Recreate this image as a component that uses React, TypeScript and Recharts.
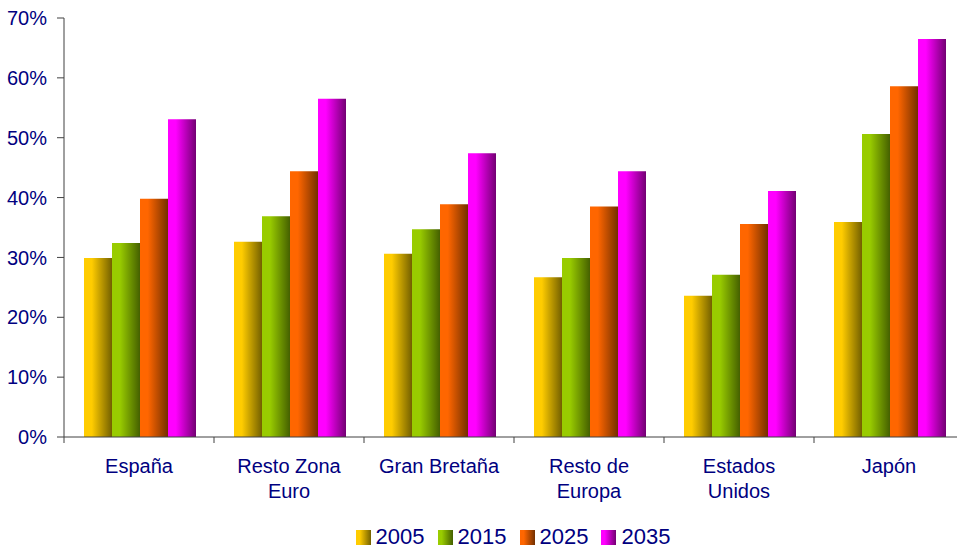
import React from "react";
import { BarChart, Bar, XAxis, YAxis, Legend } from "recharts";

const categories = ["España", "Resto Zona Euro", "Gran Bretaña", "Resto de Europa", "Estados Unidos", "Japón"];
const categoryLines: string[][] = [["España"], ["Resto Zona", "Euro"], ["Gran Bretaña"], ["Resto de", "Europa"], ["Estados", "Unidos"], ["Japón"]];
const s2005 = [29.9, 32.6, 30.6, 26.7, 23.6, 35.9];
const s2015 = [32.4, 36.9, 34.7, 29.9, 27.1, 50.6];
const s2025 = [39.8, 44.4, 38.9, 38.5, 35.6, 58.6];
const s2035 = [53.1, 56.5, 47.4, 44.4, 41.1, 66.5];
const yTicks = [0, 10, 20, 30, 40, 50, 60, 70];

const seriesNames = ["2005", "2015", "2025", "2035"];
const seriesColors = [
  ["#FFCC00", "#736000"],
  ["#99CC00", "#456000"],
  ["#FF6600", "#733000"],
  ["#FF00FF", "#730073"],
];

const data = categories.map((c, i) => ({
  name: c,
  "2005": s2005[i],
  "2015": s2015[i],
  "2025": s2025[i],
  "2035": s2035[i],
}));

const TEXT = "#000080";
const FONT = "'Liberation Sans', Arial, sans-serif";
const CHART_W = 964;
const PLOT_LEFT = 64;
const HALF_BAND = (CHART_W - PLOT_LEFT) / categories.length / 2;

const XTick = (props: any) => {
  const { x, y, payload, index } = props;
  const lines = categoryLines[index] || [String(payload.value)];
  const half = payload && payload.offset ? payload.offset : HALF_BAND;
  return (
    <g>
      <line x1={x - half} x2={x - half} y1={y - 8} y2={y - 2} stroke="#404040" strokeWidth={1} />
      <text x={x} y={y + 28} textAnchor="middle" fill={TEXT} fontSize={20} fontFamily={FONT}>
        {lines.map((l: string, i: number) => (
          <tspan key={i} x={x} dy={i === 0 ? 0 : 25}>
            {l}
          </tspan>
        ))}
      </text>
    </g>
  );
};

const LegendContent = () => (
  <div
    style={{
      display: "flex",
      justifyContent: "center",
      alignItems: "center",
      gap: 13,
      fontFamily: FONT,
      fontSize: 22,
      color: TEXT,
      paddingTop: 4,
      paddingLeft: 62,
    }}
  >
    {seriesNames.map((n, i) => (
      <div key={n} style={{ display: "flex", alignItems: "center" }}>
        <span
          style={{
            display: "inline-block",
            width: 15,
            height: 15,
            marginRight: 5,
            background: `linear-gradient(to right, ${seriesColors[i][0]} 0%, ${seriesColors[i][0]} 25%, ${seriesColors[i][1]} 100%)`,
          }}
        />
        <span>{n}</span>
      </div>
    ))}
  </div>
);

export default function App() {
  return (
    <div style={{ position: "absolute", left: 0, top: 0, width: 957, height: 550, overflow: "hidden", background: "#fff" }}>
      <BarChart
        width={CHART_W}
        height={550}
        data={data}
        margin={{ top: 18, right: 0, bottom: 0, left: 0 }}
        barCategoryGap={20}
        barGap={0}
      >
        <defs>
          {seriesColors.map((c, i) => (
            <linearGradient key={i} id={`g${i}`} x1="0" y1="0" x2="1" y2="0">
              <stop offset="0%" stopColor={c[0]} />
              <stop offset="28%" stopColor={c[0]} />
              <stop offset="100%" stopColor={c[1]} />
            </linearGradient>
          ))}
        </defs>
        <XAxis
          dataKey="name"
          height={83}
          tick={<XTick />}
          tickLine={false}
          tickSize={6}
          tickMargin={2}
          axisLine={{ stroke: "#404040" }}
          interval={0}
        />
        <YAxis
          width={PLOT_LEFT}
          domain={[0, 70]}
          ticks={yTicks}
          tickFormatter={(v: number) => `${v}%`}
          tickSize={7}
          tickMargin={10}
          axisLine={{ stroke: "#404040" }}
          tickLine={{ stroke: "#404040" }}
          tick={{ fill: TEXT, fontSize: 20, fontFamily: FONT }}
          interval={0}
        />
        <Legend verticalAlign="bottom" height={30} content={<LegendContent />} />
        {seriesNames.map((n, i) => (
          <Bar key={n} dataKey={n} fill={`url(#g${i})`} isAnimationActive={false} />
        ))}
      </BarChart>
    </div>
  );
}
